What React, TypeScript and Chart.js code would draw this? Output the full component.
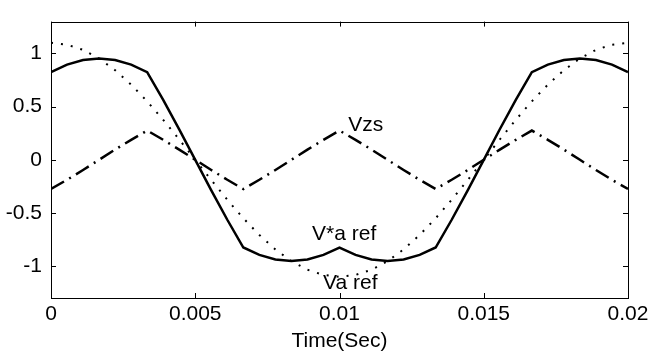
import React, { useEffect, useRef } from "react";
import { Chart, registerables } from "chart.js";

Chart.register(...registerables);

// Sample times over one 50 Hz period (s)
const timeSec = [
  0, 0.000556, 0.001111, 0.001667, 0.002222, 0.002778, 0.003333, 0.003889, 0.004444,
  0.005, 0.005556, 0.006111, 0.006667, 0.007222, 0.007778, 0.008333, 0.008889, 0.009444,
  0.01, 0.010556, 0.011111, 0.011667, 0.012222, 0.012778, 0.013333, 0.013889, 0.014444,
  0.015, 0.015556, 0.016111, 0.016667, 0.017222, 0.017778, 0.018333, 0.018889, 0.019444,
  0.02,
];

// Phase-a sinusoidal reference
const vaRef = [
  1.1, 1.083, 1.034, 0.953, 0.843, 0.707, 0.55, 0.376, 0.191,
  0, -0.191, -0.376, -0.55, -0.707, -0.843, -0.953, -1.034, -1.083,
  -1.1, -1.083, -1.034, -0.953, -0.843, -0.707, -0.55, -0.376, -0.191,
  0, 0.191, 0.376, 0.55, 0.707, 0.843, 0.953, 1.034, 1.083,
  1.1,
];

// Zero-sequence component
const vzs = [
  -0.275, -0.188, -0.096, 0, 0.096, 0.188, 0.275, 0.188, 0.096,
  0, -0.096, -0.188, -0.275, -0.188, -0.096, 0, 0.096, 0.188,
  0.275, 0.188, 0.096, 0, -0.096, -0.188, -0.275, -0.188, -0.096,
  0, 0.096, 0.188, 0.275, 0.188, 0.096, 0, -0.096, -0.188,
  -0.275,
];

// Modified reference (sinusoid plus zero sequence)
const vStarRef = [
  0.825, 0.895, 0.938, 0.953, 0.938, 0.895, 0.825, 0.564, 0.287,
  0, -0.287, -0.564, -0.825, -0.895, -0.938, -0.953, -0.938, -0.895,
  -0.825, -0.895, -0.938, -0.953, -0.938, -0.895, -0.825, -0.564, -0.287,
  0, 0.287, 0.564, 0.825, 0.895, 0.938, 0.953, 0.938, 0.895,
  0.825,
];

// Curve labels placed in data units: [text, time, value]
const curveLabels: [string, number, number][] = [
  ["Vzs", 0.0103, 0.325],
  ["V*a ref", 0.00905, -0.7],
  ["Va ref", 0.00943, -1.165],
];

const FONT = "'Liberation Sans', Arial, Helvetica, sans-serif";
const FONT_SIZE = 21;

const toPoints = (ys: number[]) => ys.map((y, i) => ({ x: timeSec[i], y }));

// Draws the closed frame, inward tick marks on all four sides and the curve labels
const framePlugin = {
  id: "frame",
  afterDraw(chart: any) {
    const { ctx, chartArea: a, scales } = chart;
    const xs = scales.x;
    const ys = scales.y;
    ctx.save();
    ctx.strokeStyle = "#000";
    ctx.lineWidth = 1;
    ctx.strokeRect(Math.round(a.left) + 0.5, Math.round(a.top) + 0.5,
      Math.round(a.right - a.left), Math.round(a.bottom - a.top));
    const tl = 5;
    ctx.beginPath();
    xs.ticks.forEach((t: any) => {
      const px = Math.round(xs.getPixelForValue(t.value)) + 0.5;
      ctx.moveTo(px, a.bottom);
      ctx.lineTo(px, a.bottom - tl);
      ctx.moveTo(px, a.top);
      ctx.lineTo(px, a.top + tl);
    });
    ys.ticks.forEach((t: any) => {
      const py = Math.round(ys.getPixelForValue(t.value)) + 0.5;
      ctx.moveTo(a.left, py);
      ctx.lineTo(a.left + tl, py);
      ctx.moveTo(a.right, py);
      ctx.lineTo(a.right - tl, py);
    });
    ctx.stroke();

    ctx.fillStyle = "#000";
    ctx.font = `${FONT_SIZE}px ${FONT}`;
    ctx.textAlign = "left";
    ctx.textBaseline = "middle";
    curveLabels.forEach(([text, t, v]) => {
      ctx.fillText(text, xs.getPixelForValue(t), ys.getPixelForValue(v));
    });
    ctx.restore();
  },
};

export default function App() {
  const canvasRef = useRef<HTMLCanvasElement | null>(null);

  useEffect(() => {
    if (!canvasRef.current) return;
    const chart = new Chart(canvasRef.current, {
      type: "line",
      data: {
        datasets: [
          {
            label: "Va ref",
            data: toPoints(vaRef),
            borderColor: "#000",
            borderWidth: 2,
            borderDash: [2, 8],
            pointRadius: 0,
            fill: false,
          },
          {
            label: "Vzs",
            data: toPoints(vzs),
            borderColor: "#000",
            borderWidth: 2.5,
            borderDash: [15, 6, 2, 6],
            pointRadius: 0,
            fill: false,
          },
          {
            label: "V*a ref",
            data: toPoints(vStarRef),
            borderColor: "#000",
            borderWidth: 2.5,
            pointRadius: 0,
            fill: false,
          },
        ],
      },
      options: {
        animation: false,
        responsive: false,
        maintainAspectRatio: false,
        layout: { padding: { top: 10, right: 36, left: 0, bottom: 0 } },
        plugins: {
          legend: { display: false },
          tooltip: { enabled: false },
        },
        elements: { line: { tension: 0 } },
        scales: {
          x: {
            type: "linear",
            min: 0,
            max: 0.02,
            grid: { display: false, drawTicks: false },
            border: { display: false },
            ticks: {
              stepSize: 0.005,
              padding: 4,
              color: "#000",
              font: { family: FONT, size: FONT_SIZE },
              maxRotation: 0,
              callback: (v: any) => String(parseFloat(Number(v).toFixed(4))),
            },
            title: {
              display: true,
              text: "Time(Sec)",
              color: "#000",
              font: { family: FONT, size: FONT_SIZE },
              padding: { top: 0, bottom: 2 },
            },
            afterFit: (s: any) => {
              s.height = 58;
            },
          },
          y: {
            min: -1.3,
            max: 1.3,
            grid: { display: false, drawTicks: false },
            border: { display: false },
            ticks: {
              stepSize: 0.5,
              includeBounds: false,
              padding: 9,
              color: "#000",
              font: { family: FONT, size: FONT_SIZE },
              callback: (v: any) => String(parseFloat(Number(v).toFixed(2))),
            },
            afterFit: (s: any) => {
              s.width = 51;
            },
          },
        },
      },
      plugins: [framePlugin],
    });
    return () => chart.destroy();
  }, []);

  return (
    <div style={{ position: "fixed", left: 0, top: 0, width: 664, height: 356, background: "#fff" }}>
      <canvas ref={canvasRef} width={664} height={356} />
    </div>
  );
}
